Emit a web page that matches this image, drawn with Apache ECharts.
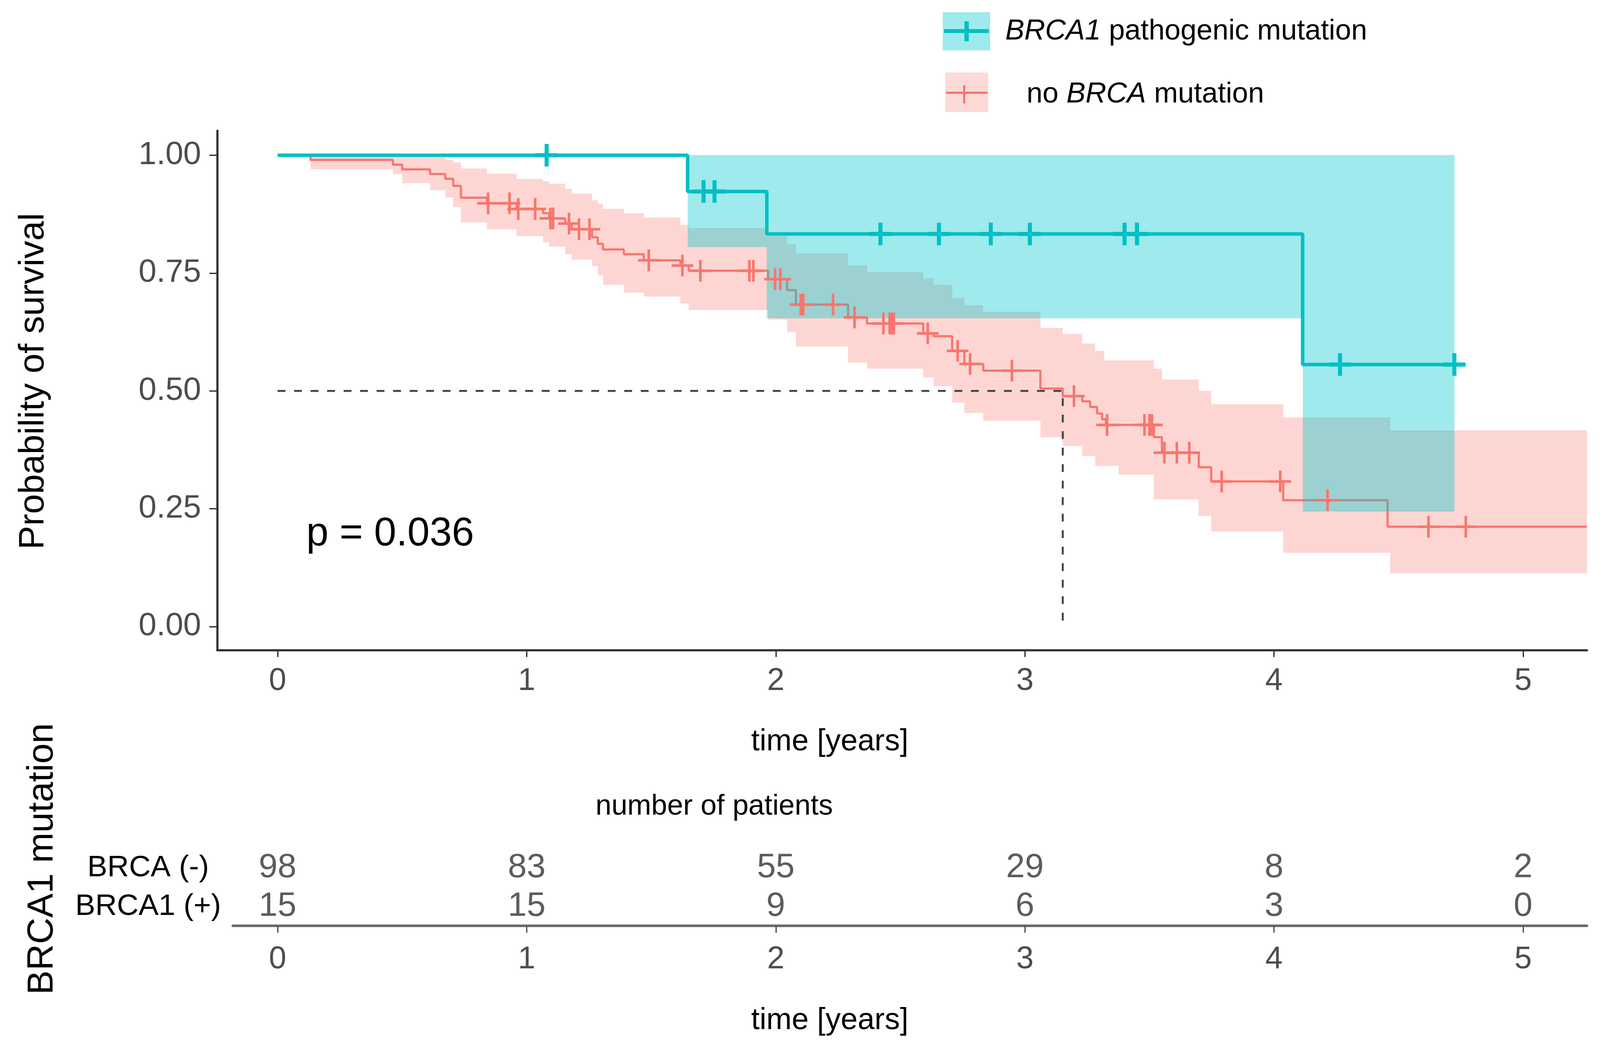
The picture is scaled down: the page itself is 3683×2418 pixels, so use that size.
<!DOCTYPE html>
<html>
<head>
<meta charset="utf-8">
<script src="https://cdn.jsdelivr.net/npm/echarts@6/dist/echarts.min.js"></script>
<style>
html,body{margin:0;padding:0;background:#fff;}
#chart{width:3683px;height:2418px;}
</style>
</head>
<body>
<div id="chart"></div>
<script>
// ---------- data ----------
const years = [0, 1, 2, 3, 4, 5];
const yTicks = [0, 0.25, 0.5, 0.75, 1];

// BRCA1 pathogenic mutation
const brcaTime = [0, 1.646, 1.964, 4.115, 4.725];
const brcaSurv = [1, 0.923, 0.833, 0.556, 0.556];
const brcaBandTime = [1.646, 1.964, 4.115, 4.725];
const brcaLower = [0.805, 0.654, 0.244];
const brcaUpper = [1, 1, 1];
const brcaCensor = [1.08, 1.71, 1.754, 2.42, 2.655, 2.863, 3.02, 3.40, 3.45, 4.265, 4.724];

// no BRCA mutation
const noTime = [0, 0.132, 0.463, 0.500, 0.612, 0.673, 0.705, 0.736, 0.840, 0.960, 1.066, 1.090, 1.155, 1.181, 1.262, 1.285, 1.306, 1.390, 1.470, 1.617, 1.650, 1.969, 2.045, 2.081, 2.290, 2.366, 2.592, 2.633, 2.708, 2.757, 2.833, 3.062, 3.152, 3.230, 3.262, 3.290, 3.310, 3.325, 3.518, 3.550, 3.698, 3.748, 4.037, 4.456, 5.256];
const noSurv = [1, 0.990, 0.980, 0.970, 0.960, 0.950, 0.935, 0.910, 0.898, 0.886, 0.877, 0.866, 0.855, 0.843, 0.826, 0.812, 0.800, 0.790, 0.777, 0.766, 0.755, 0.737, 0.714, 0.683, 0.656, 0.643, 0.622, 0.616, 0.585, 0.557, 0.543, 0.505, 0.489, 0.478, 0.466, 0.452, 0.440, 0.428, 0.402, 0.369, 0.338, 0.308, 0.268, 0.212, 0.212];
const noBandTime = [0.132, 0.463, 0.500, 0.612, 0.673, 0.705, 0.736, 0.840, 0.960, 1.066, 1.090, 1.155, 1.181, 1.262, 1.285, 1.306, 1.390, 1.470, 1.617, 1.650, 1.969, 2.045, 2.081, 2.290, 2.366, 2.592, 2.633, 2.708, 2.757, 2.833, 3.062, 3.152, 3.230, 3.282, 3.318, 3.377, 3.518, 3.550, 3.698, 3.748, 4.037, 4.466, 5.256];
const noLower = [0.970, 0.960, 0.941, 0.926, 0.910, 0.890, 0.858, 0.843, 0.828, 0.815, 0.806, 0.790, 0.778, 0.765, 0.745, 0.725, 0.708, 0.700, 0.685, 0.672, 0.651, 0.625, 0.594, 0.560, 0.547, 0.529, 0.510, 0.475, 0.453, 0.437, 0.402, 0.383, 0.362, 0.341, 0.341, 0.322, 0.270, 0.270, 0.235, 0.202, 0.157, 0.113];
const noUpper = [1.000, 1.000, 1.000, 0.998, 0.990, 0.985, 0.972, 0.961, 0.950, 0.945, 0.940, 0.929, 0.918, 0.905, 0.897, 0.886, 0.877, 0.868, 0.852, 0.846, 0.828, 0.811, 0.791, 0.766, 0.752, 0.739, 0.725, 0.697, 0.682, 0.668, 0.634, 0.621, 0.601, 0.585, 0.565, 0.565, 0.547, 0.524, 0.500, 0.472, 0.444, 0.416];
const noCensor = [0.845, 0.931, 0.966, 1.034, 1.095, 1.106, 1.17, 1.21, 1.252, 1.49, 1.625, 1.697, 1.894, 1.91, 1.997, 2.018, 2.10, 2.11, 2.23, 2.316, 2.432, 2.457, 2.464, 2.474, 2.61, 2.73, 2.78, 2.948, 3.197, 3.33, 3.48, 3.50, 3.51, 3.56, 3.61, 3.66, 3.79, 4.025, 4.215, 4.62, 4.77];

// median survival (no BRCA mutation)
const medianTime = 3.152;
const medianLevel = 0.5;

// number at risk
const riskRows = ['BRCA1 (+)', 'BRCA (-)'];
const riskMinus = [98, 83, 55, 29, 8, 2];
const riskPlus = [15, 15, 9, 6, 3, 0];

const pValueText = 'p = 0.036';

// ---------- helpers ----------
const FONT = "'Liberation Sans', Arial, Helvetica, sans-serif";
const CYAN = '#00BFC4';
const PINK = '#F8766D';
const CYAN_BAND = 'rgba(0,200,205,0.38)';
const PINK_BAND = 'rgba(248,118,109,0.30)';

function stepAt(ts, ss, t) {
  let v = ss[0];
  for (let i = 0; i < ts.length; i++) { if (ts[i] <= t) v = ss[i]; }
  return v;
}
function zip(a, b) { return a.map((v, i) => [v, b[i]]); }
function bandItems(ts, lo, hi) {
  const out = [];
  for (let i = 0; i < lo.length; i++) out.push([ts[i], ts[i + 1], lo[i], hi[i]]);
  return out;
}
function bandRender(color) {
  return function (params, api) {
    const p0 = api.coord([api.value(0), api.value(3)]);
    const p1 = api.coord([api.value(1), api.value(2)]);
    const x0 = Math.round(p0[0]), x1 = Math.round(p1[0]);
    const y0 = Math.round(p0[1]), y1 = Math.round(p1[1]);
    return { type: 'rect', shape: { x: x0, y: y0, width: x1 - x0, height: y1 - y0 }, style: { fill: color } };
  };
}
const plusThin = 'path://M0,44L100,44L100,56L0,56Z M44,0L56,0L56,100L44,100Z';
const plusThick = 'path://M0,41L100,41L100,59L0,59Z M41,0L59,0L59,100L41,100Z';

// ---------- layout (pixels) ----------
const G0 = { left: 500, top: 301, width: 3153, height: 1196 };
const G1 = { left: 536, top: 1954, width: 3117, height: 178 };

const chart = echarts.init(document.getElementById('chart'), null, { renderer: 'canvas' });

const axisTextColor = '#4D4D4D';

const option = {
  animation: false,
  backgroundColor: '#ffffff',
  textStyle: { fontFamily: FONT },
  grid: [
    Object.assign({ containLabel: false, outerBoundsMode: 'none' }, G0),
    Object.assign({ containLabel: false, outerBoundsMode: 'none' }, G1)
  ],
  xAxis: [
    {
      type: 'value', gridIndex: 0, min: -0.2424, max: 5.2564,
      splitLine: { show: false },
      axisLine: { show: true, onZero: false, lineStyle: { color: '#333', width: 5 } },
      axisTick: { show: true, length: 16, customValues: years, lineStyle: { color: '#333', width: 3 } },
      axisLabel: { customValues: years, fontSize: 72, color: axisTextColor, margin: 36, fontFamily: FONT }
    },
    {
      type: 'value', gridIndex: 1, min: -0.1796, max: 5.2564,
      splitLine: { show: false },
      axisLine: { show: true, onZero: false, lineStyle: { color: '#6b6b6b', width: 6 } },
      axisTick: { show: true, length: 16, customValues: years, lineStyle: { color: '#555', width: 3 } },
      axisLabel: { customValues: years, fontSize: 72, color: axisTextColor, margin: 42, fontFamily: FONT }
    }
  ],
  yAxis: [
    {
      type: 'value', gridIndex: 0, min: -0.0497, max: 1.052,
      splitLine: { show: false },
      axisLine: { show: true, onZero: false, lineStyle: { color: '#333', width: 5 } },
      axisTick: { show: true, length: 18, customValues: yTicks, lineStyle: { color: '#333', width: 3 } },
      axisLabel: { customValues: yTicks, fontSize: 74, color: axisTextColor, margin: 37, fontFamily: FONT,
        formatter: v => Number(v).toFixed(2) }
    },
    {
      type: 'category', gridIndex: 1, data: riskRows,
      axisLine: { show: false }, axisTick: { show: false }, splitLine: { show: false },
      axisLabel: { show: true, interval: 0, hideOverlap: false, fontSize: 69, color: '#000', align: 'center', margin: 195, fontFamily: FONT }
    }
  ],
  series: [
    {
      name: 'no BRCA band', type: 'custom', xAxisIndex: 0, yAxisIndex: 0, z: 1,
      data: bandItems(noBandTime, noLower, noUpper),
      encode: { x: [0, 1], y: [2, 3] },
      renderItem: bandRender(PINK_BAND), silent: true
    },
    {
      name: 'no BRCA mutation', type: 'line', step: 'end', xAxisIndex: 0, yAxisIndex: 0, z: 2,
      data: zip(noTime, noSurv), showSymbol: false, symbol: 'none',
      lineStyle: { color: PINK, width: 5 }, itemStyle: { color: PINK }
    },
    {
      name: 'BRCA1 band', type: 'custom', xAxisIndex: 0, yAxisIndex: 0, z: 3,
      data: bandItems(brcaBandTime, brcaLower, brcaUpper),
      encode: { x: [0, 1], y: [2, 3] },
      renderItem: bandRender(CYAN_BAND), silent: true
    },
    {
      name: 'BRCA1 pathogenic mutation', type: 'line', step: 'end', xAxisIndex: 0, yAxisIndex: 0, z: 4,
      data: zip(brcaTime, brcaSurv), showSymbol: false, symbol: 'none',
      lineStyle: { color: CYAN, width: 8 }, itemStyle: { color: CYAN }
    },
    {
      name: 'median', type: 'line', xAxisIndex: 0, yAxisIndex: 0, z: 5,
      data: [[0, medianLevel], [medianTime, medianLevel], [medianTime, 0]],
      showSymbol: false, symbol: 'none',
      lineStyle: { color: '#444', width: 4.5, type: [18, 20] }
    },
    {
      name: 'no BRCA censor', type: 'scatter', xAxisIndex: 0, yAxisIndex: 0, z: 6,
      data: noCensor.map(t => [t, stepAt(noTime, noSurv, t)]),
      symbol: plusThin, symbolSize: 50, itemStyle: { color: PINK, opacity: 1 }
    },
    {
      name: 'BRCA1 censor', type: 'scatter', xAxisIndex: 0, yAxisIndex: 0, z: 7,
      data: brcaCensor.map(t => [t, stepAt(brcaTime, brcaSurv, t)]),
      symbol: plusThick, symbolSize: 52, itemStyle: { color: CYAN, opacity: 1 }
    },
    {
      name: 'at risk', type: 'scatter', xAxisIndex: 1, yAxisIndex: 1, z: 5,
      data: years.map((t, i) => [t, 'BRCA (-)', riskMinus[i]]).concat(years.map((t, i) => [t, 'BRCA1 (+)', riskPlus[i]])),
      symbolSize: 0,
      label: { show: true, position: 'inside', formatter: p => String(p.value[2]),
        fontSize: 78, color: '#333', fontFamily: FONT }
    }
  ],
  graphic: [
    // axis titles & annotations
    { type: 'text', x: 77, y: 878, rotation: Math.PI / 2, z: 10,
      style: { text: 'Probability of survival', fontSize: 82, fontFamily: FONT, fill: '#000',
        align: 'center', verticalAlign: 'middle', textAlign: 'center', textVerticalAlign: 'middle' } },
    { type: 'text', x: 1910, y: 1709, z: 10,
      style: { text: 'time [years]', fontSize: 70, fontFamily: FONT, fill: '#000',
        align: 'center', verticalAlign: 'middle', textAlign: 'center', textVerticalAlign: 'middle' } },
    { type: 'text', x: 1644, y: 1858, z: 10,
      style: { text: 'number of patients', fontSize: 66, fontFamily: FONT, fill: '#000',
        align: 'center', verticalAlign: 'middle', textAlign: 'center', textVerticalAlign: 'middle' } },
    { type: 'text', x: 1910, y: 2351, z: 10,
      style: { text: 'time [years]', fontSize: 70, fontFamily: FONT, fill: '#000',
        align: 'center', verticalAlign: 'middle', textAlign: 'center', textVerticalAlign: 'middle' } },
    { type: 'text', x: 98, y: 1978, rotation: Math.PI / 2, z: 10,
      style: { text: 'BRCA1 mutation', fontSize: 84, fontFamily: FONT, fill: '#000',
        align: 'center', verticalAlign: 'middle', textAlign: 'center', textVerticalAlign: 'middle' } },
    { type: 'text', x: 705, y: 1231, z: 10,
      style: { text: pValueText, fontSize: 92, fontFamily: FONT, fill: '#000',
        align: 'left', verticalAlign: 'middle', textAlign: 'left', textVerticalAlign: 'middle' } },
    // legend: BRCA1 pathogenic mutation
    { type: 'rect', shape: { x: 2170, y: 28, width: 109, height: 88 }, style: { fill: CYAN_BAND }, z: 10 },
    { type: 'rect', shape: { x: 2173, y: 67, width: 103, height: 9 }, style: { fill: CYAN }, z: 11 },
    { type: 'rect', shape: { x: 2220, y: 49, width: 10, height: 46 }, style: { fill: CYAN }, z: 11 },
    { type: 'text', x: 2314, y: 73, z: 10,
      style: { text: '{i|BRCA1} pathogenic mutation', fontSize: 66, fontFamily: FONT, fill: '#000',
        align: 'left', verticalAlign: 'middle', textAlign: 'left', textVerticalAlign: 'middle',
        rich: { i: { fontStyle: 'italic', fontSize: 66, fontFamily: FONT, fill: '#000' } } } },
    // legend: no BRCA mutation
    { type: 'rect', shape: { x: 2176, y: 167, width: 99, height: 91 }, style: { fill: 'rgba(248,118,109,0.27)' }, z: 10 },
    { type: 'rect', shape: { x: 2178, y: 211, width: 95, height: 5 }, style: { fill: PINK }, z: 11 },
    { type: 'rect', shape: { x: 2217, y: 196, width: 5, height: 42 }, style: { fill: PINK }, z: 11 },
    { type: 'text', x: 2363, y: 218, z: 10,
      style: { text: 'no {i|BRCA} mutation', fontSize: 66, fontFamily: FONT, fill: '#000',
        align: 'left', verticalAlign: 'middle', textAlign: 'left', textVerticalAlign: 'middle',
        rich: { i: { fontStyle: 'italic', fontSize: 66, fontFamily: FONT, fill: '#000' } } } }
  ]
};

chart.setOption(option);
</script>
</body>
</html>
